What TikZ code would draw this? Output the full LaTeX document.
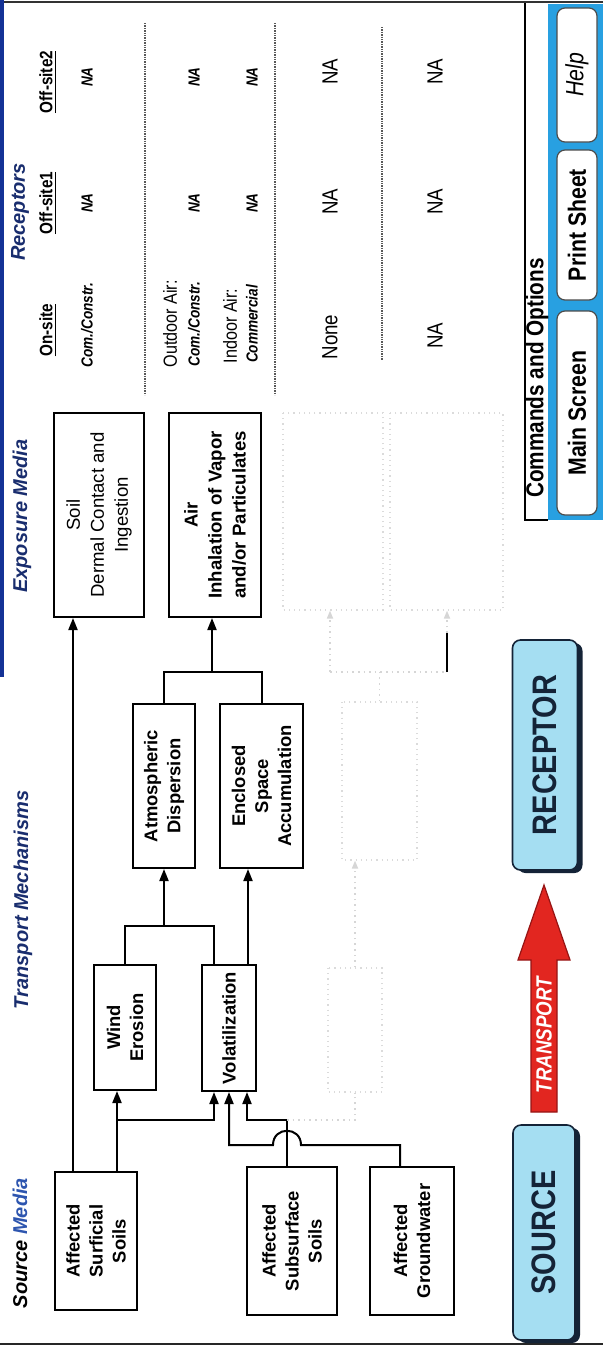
\documentclass[tikz,border=0pt]{standalone}
\usepackage{fontspec}
\setmainfont{Liberation Sans}
\newfontfamily\narrow[FakeStretch=0.85]{Liberation Sans}
\usetikzlibrary{arrows.meta,calc}
\definecolor{headnavy}{RGB}{25,45,110}
\definecolor{mediablue}{RGB}{45,85,175}
\definecolor{cyanfill}{RGB}{165,222,242}
\definecolor{panelblue}{RGB}{40,160,225}
\definecolor{arrowred}{RGB}{226,38,32}
\definecolor{darkred}{RGB}{150,20,20}
\definecolor{edgeblue}{RGB}{20,50,150}
\definecolor{shadownavy}{RGB}{20,35,55}
\begin{document}
\begin{tikzpicture}[x=0.5pt,y=-0.5pt,
  ln/.style={line width=1pt, black},
  arr/.style={ln, -{Triangle[length=6pt,width=4.5pt]}},
  box/.style={draw, line width=1pt, rotate=90, inner sep=1pt, align=center,
    font=\fontsize{9.2}{11.5}\selectfont\bfseries},
  ghost/.style={draw=black!14, dotted, line width=0.6pt, rotate=90, inner sep=0pt},
  ghostln/.style={black!16, dotted, line width=0.8pt},
  hdr/.style={rotate=90, inner sep=0pt, text=headnavy, font=\fontsize{10}{12}\selectfont\bfseries\itshape},
  colh/.style={rotate=90, inner sep=0pt, font=\narrow\fontsize{9}{10}\selectfont\bfseries},
  rbi/.style={rotate=90, inner sep=0pt, font=\narrow\fontsize{8}{10}\selectfont\bfseries\itshape},
  rn/.style={rotate=90, inner sep=0pt, font=\narrow\fontsize{9.5}{10}\selectfont},
  rbig/.style={rotate=90, inner sep=0pt, font=\narrow\fontsize{11}{12}\selectfont},
  dotl/.style={line width=1pt, black!65, dash pattern=on 0.7pt off 0.5pt},
  btn/.style={rotate=90, draw=black!70, fill=white, line width=0.6pt, rounded corners=4pt,
    inner sep=0pt, font=\narrow\fontsize{12.5}{14}\selectfont\bfseries},
  bigbox/.style={rotate=90, draw=shadownavy, line width=0.8pt, fill=cyanfill, rounded corners=4pt,
    inner sep=0pt, text=shadownavy, font=\narrow\fontsize{17}{20}\selectfont\bfseries},
  bigshadow/.style={rotate=90, fill=shadownavy, rounded corners=4pt, inner sep=0pt}
]
\useasboundingbox (0,0) rectangle (603,1349);
\fill[white] (0,0) rectangle (603,1349);

% frame
\draw[line width=1.2pt, black!80] (0,2) -- (603,2);
\draw[line width=1pt, black!85] (0,1344) -- (603,1344);
\draw[line width=2.2pt, edgeblue] (2,0) -- (2,677);

% headers
\node[hdr] (hsrc) at (20,1243) {{\color{black}Source} {\color{mediablue}Media}};
\node[hdr] (htr) at (23,900) {Transport Mechanisms};
\node[hdr] (hexp) at (22,516) {Exposure Media};
\node[hdr] (hrec) at (20,212) {Receptors};

% source boxes
\node[box, minimum width=69pt, minimum height=41pt] (sur) at (96,1241) {Affected\\Surficial\\Soils};
\node[box, minimum width=74pt, minimum height=45pt] (sub) at (292,1241) {Affected\\Subsurface\\Soils};
\node[box, minimum width=74pt, minimum height=42pt] (gw) at (412,1241) {Affected\\Groundwater};

% transport boxes
\node[box, minimum width=62.5pt, minimum height=31pt] (wind) at (125,1027.5) {Wind\\Erosion};
\node[box, minimum width=63pt, minimum height=27pt] (vol) at (229,1028) {Volatilization};
\node[box, minimum width=82pt, minimum height=31pt] (atm) at (164,786) {Atmospheric\\Dispersion};
\node[box, minimum width=82pt, minimum height=41.5pt] (enc) at (261.5,786) {Enclosed\\Space\\Accumulation};

% exposure boxes
\node[box, minimum width=102pt, minimum height=45pt, font=\fontsize{9.3}{12}\selectfont] (soil) at (99,515) {Soil\\Dermal Contact and\\Ingestion};
\node[box, minimum width=102pt, minimum height=46pt, font=\fontsize{9.3}{12}\selectfont\bfseries] (air) at (215,515) {Air\\Inhalation of Vapor\\and/or Particulates};

% ghost (faded) boxes
\node[ghost, minimum width=98.5pt, minimum height=50pt] (gh1) at (333,511.5) {};
\node[ghost, minimum width=98.5pt, minimum height=56.5pt] (gh2) at (446.5,511.5) {};
\node[ghost, minimum width=79pt, minimum height=37.5pt] (gh3) at (379.5,781) {};
\node[ghost, minimum width=62pt, minimum height=27pt] (gh4) at (355,1030) {};

% connectors
\coordinate (x73) at (73,0);
\draw[arr] (sur.east -| x73) -- (soil.west -| x73);

\coordinate (j117) at (117,1120);
\coordinate (j214) at (214,1120);
\draw[ln] (sur.east -| j117) -- (j117);
\draw[arr] (j117) -- (wind.west -| j117);
\draw[arr] (j117) -- (j214) -- (vol.west -| j214);

\coordinate (s1) at (287,1120);
\coordinate (s2) at (247,1120);
\draw[arr] (sub.east -| s1) -- (s1) -- (s2) -- (vol.west -| s2);

\coordinate (g1) at (400,1145);
\coordinate (g2) at (229,1145);
\draw[arr] (gw.east -| g1) -- (g1) -- (301,1145) .. controls (301,1126) and (273,1126) .. (273,1145) -- (g2) -- (vol.west -| g2);

\coordinate (w1) at (125,926);
\coordinate (w2) at (214,926);
\draw[ln] (wind.east) -- (w1) -- (w2) -- (vol.east -| w2);
\draw[arr] (w1 -| atm.west) -- (atm.west);

\coordinate (v1) at (248,0);
\draw[arr] (vol.east -| v1) -- (enc.west -| v1);

\coordinate (a1) at (212,672);
\draw[ln] (atm.east) -- (atm.east |- a1) -- (enc.east |- a1) -- (enc.east);
\draw[arr] (a1) -- (air.west -| a1);

% ghost connectors
\coordinate (q1) at (355,1120);
\draw[ghostln] (s1) -- (q1) -- (gh4.west);
\draw[ghostln, -{Triangle[length=4pt,width=3pt]}] (gh4.east) -- (gh3.west -| gh4.east);
\coordinate (r1) at (330,672);
\coordinate (r2) at (447,672);
\coordinate (r3) at (447,633);
\draw[ghostln] (gh3.east) -- (gh3.east |- r1);
\draw[ghostln] (r1) -- (r2);
\draw[ghostln, -{Triangle[length=4pt,width=3pt]}] (r1) -- (gh1.west -| r1);
\draw[ln] (r2) -- (r3);
\draw[ghostln, -{Triangle[length=4pt,width=3pt]}] (r3) -- (gh2.west -| r3);

% receptors table
\node[colh] (c1) at (48,330) {\underline{On-site}};
\node[colh] (c2) at (48,203) {\underline{Off-site1}};
\node[colh] (c3) at (48,82) {\underline{Off-site2}};
\node[rbi] (r1a) at (87,325) {Com./Constr.};
\node[rbi] (r1b) at (87,203) {NA};
\node[rbi] (r1c) at (87,77) {NA};
\draw[dotl] (145,23) -- (145,395);
\node[rn] (r2l) at (170,324) {Outdoor Air:};
\node[rbi] (r2a) at (194,324) {Com./Constr.};
\node[rbi] (r2b) at (194,203) {NA};
\node[rbi] (r2c) at (194,77) {NA};
\node[rn] (r3l) at (230,326) {Indoor Air:};
\node[rbi] (r3a) at (252,324) {Commercial};
\node[rbi] (r3b) at (252,203) {NA};
\node[rbi] (r3c) at (252,77) {NA};
\draw[dotl] (275,23) -- (275,395);
\node[rbig] (r4a) at (330,337) {None};
\node[rbig] (r4b) at (330,202) {NA};
\node[rbig] (r4c) at (330,72) {NA};
\draw[dotl] (382,27) -- (382,360);
\node[rbig] (r5a) at (435,336) {NA};
\node[rbig] (r5b) at (435,202) {NA};
\node[rbig] (r5c) at (435,72) {NA};

% commands panel
\fill[panelblue] (548,4) rectangle (603,520);
\draw[line width=0.9pt] (525,3) -- (525,520) -- (548,520);
\node[rotate=90, inner sep=0pt, font=\narrow\fontsize{12.2}{14}\selectfont\bfseries] (cmd) at (537,378) {Commands and Options};
\node[btn, minimum width=67pt, minimum height=20pt, font=\narrow\fontsize{12.5}{14}\selectfont\itshape] (help) at (577,75) {Help};
\node[btn, minimum width=75pt, minimum height=20pt] (print) at (577,225) {Print Sheet};
\node[btn, minimum width=102pt, minimum height=20pt] (main) at (577,413) {Main Screen};

% source -> transport -> receptor
\node[bigshadow, minimum width=107.5pt, minimum height=31pt] (srcsh) at (549,1235.5) {};
\node[bigbox, minimum width=107.5pt, minimum height=31pt] (src) at (544,1232.5) {SOURCE};
\node[bigshadow, minimum width=115pt, minimum height=32.5pt] (recsh) at (550,758) {};
\node[bigbox, minimum width=115pt, minimum height=32.5pt] (rec) at (545,755) {RECEPTOR};
\fill[arrowred, draw=darkred, line width=0.6pt]
  (531,1112) -- (531,960) -- (518,960) -- (544,885) -- (570,960) -- (557,960) -- (557,1112) -- cycle;
\node[rotate=90, inner sep=0pt, text=white, font=\narrow\fontsize{11}{12}\selectfont\bfseries\itshape] (tr) at (544,1035) {TRANSPORT};
\end{tikzpicture}
\end{document}
